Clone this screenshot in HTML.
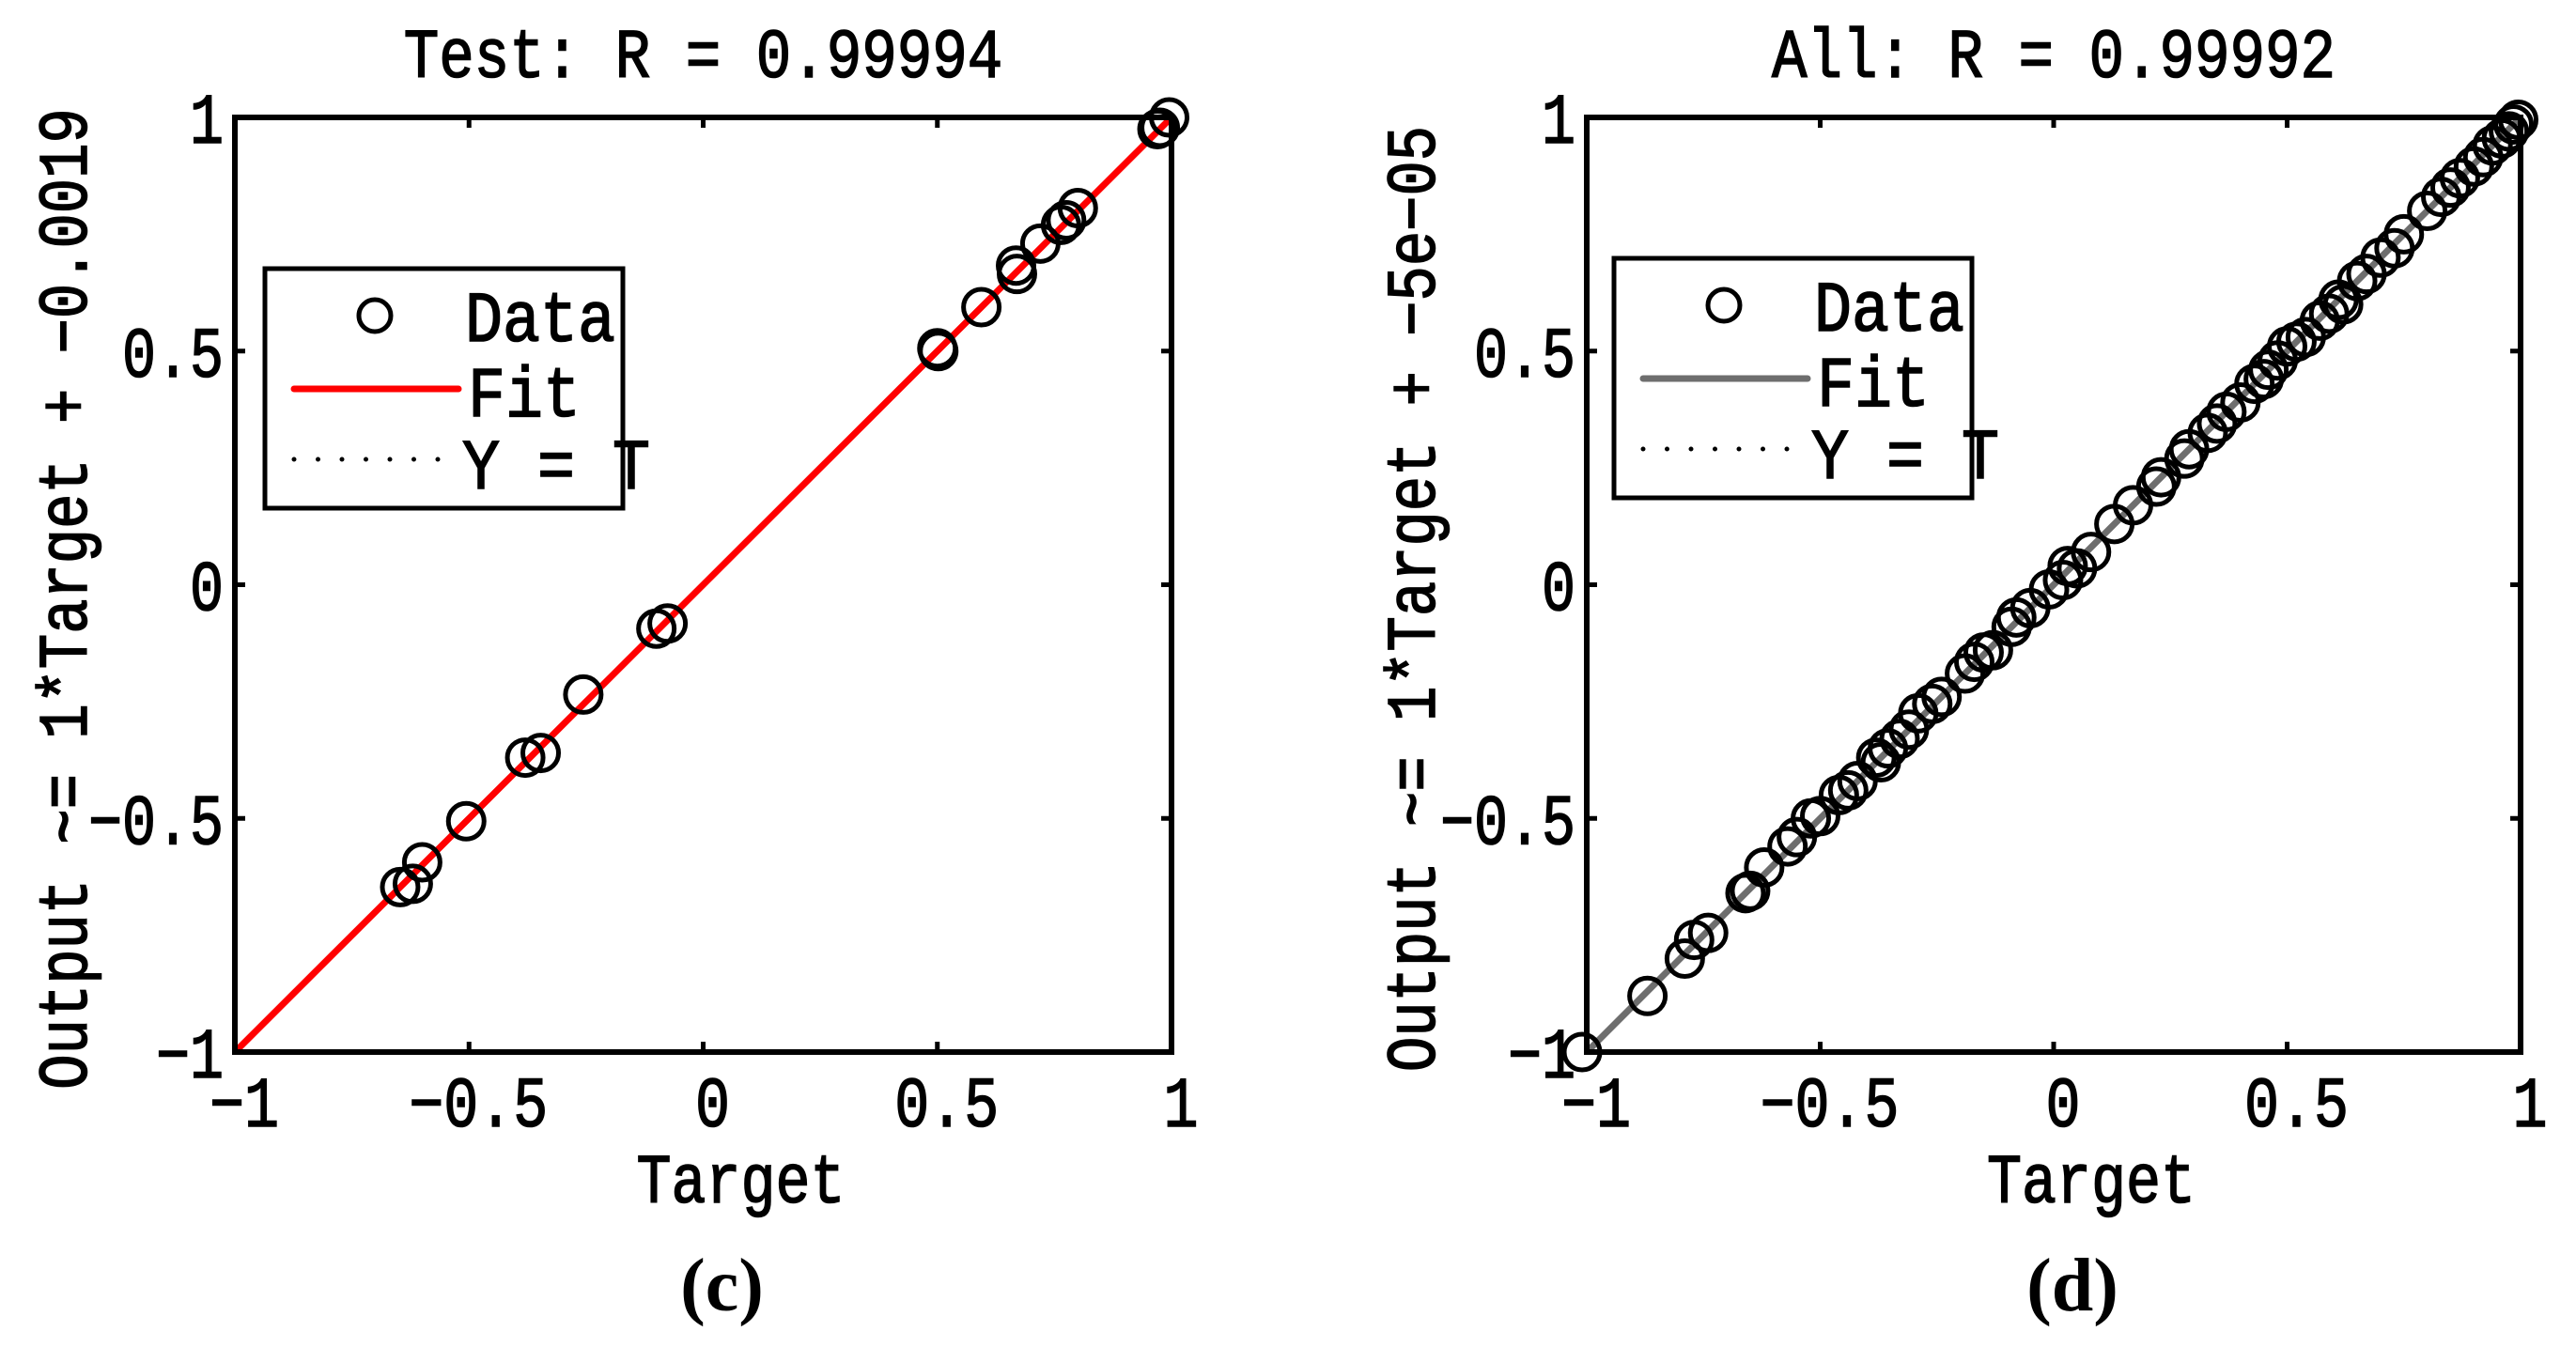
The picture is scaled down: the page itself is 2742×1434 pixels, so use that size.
<!DOCTYPE html>
<html><head><meta charset="utf-8">
<style>
html,body{margin:0;padding:0;background:#fff;}
svg{display:block;}
text{font-family:"WenQuanYi Zen Hei","Liberation Mono",monospace;fill:#000;stroke:#000;stroke-width:1.6;}
.lbl{font-family:"Liberation Serif",serif;font-weight:bold;stroke-width:0;}
</style></head>
<body>
<svg id="fig" width="2742" height="1434" viewBox="0 0 2742 1434" xmlns="http://www.w3.org/2000/svg"></svg>
<script>
// ---- data: Test panel (c)
const testTargets = [0.995,0.97,0.975,0.80,0.775,0.764,0.72,0.668,0.67,0.594,0.50,0.502,-0.076,-0.10,-0.256,-0.347,-0.38,-0.506,-0.60,-0.62,-0.647];
const testOutputs = [1.0,0.975,0.978,0.806,0.78,0.77,0.73,0.683,0.665,0.594,0.506,0.50,-0.083,-0.094,-0.235,-0.36,-0.37,-0.506,-0.594,-0.64,-0.647];
// ---- data: All panel (d)
const allTargets = [-1.01,-0.87,-0.79,-0.77,-0.74,-0.66,-0.65,-0.62,-0.57,-0.55,-0.52,-0.50,-0.46,-0.44,-0.42,-0.38,-0.37,-0.355,-0.33,-0.31,-0.29,-0.26,-0.24,-0.19,-0.17,-0.15,-0.13,-0.09,-0.08,-0.05,-0.01,0.02,0.03,0.05,0.08,0.13,0.17,0.22,0.23,0.28,0.29,0.33,0.35,0.37,0.40,0.43,0.45,0.46,0.48,0.50,0.52,0.54,0.57,0.59,0.61,0.62,0.65,0.67,0.70,0.73,0.75,0.80,0.83,0.85,0.87,0.90,0.92,0.94,0.96,0.975,0.985,0.995];
const allOutputs = [-1.0,-0.88,-0.80,-0.76,-0.745,-0.66,-0.655,-0.605,-0.56,-0.54,-0.50,-0.495,-0.45,-0.44,-0.42,-0.37,-0.38,-0.35,-0.33,-0.31,-0.275,-0.255,-0.24,-0.19,-0.165,-0.145,-0.14,-0.09,-0.07,-0.05,-0.01,0.01,0.04,0.035,0.07,0.13,0.17,0.21,0.23,0.27,0.29,0.325,0.345,0.37,0.39,0.43,0.44,0.46,0.48,0.51,0.52,0.53,0.565,0.58,0.61,0.60,0.65,0.665,0.70,0.72,0.75,0.80,0.83,0.85,0.87,0.895,0.915,0.94,0.955,0.97,0.985,0.995];
const tickValues = [-1,-0.5,0,0.5,1];
const xTickLabels = ["\u22121","\u22120.5","0","0.5","1"];
const yTickLabels = ["\u22121","\u22120.5","0","0.5","1"];

const NS="http://www.w3.org/2000/svg";
const svg=document.getElementById('fig');
function el(tag,attrs,parent,txt){const e=document.createElementNS(NS,tag);for(const k in attrs)e.setAttribute(k,attrs[k]);if(txt!==undefined)e.textContent=txt;(parent||svg).appendChild(e);return e;}

function panel(cfg){
  const g=el('g',{});
  
  
  const L=cfg.L,R=cfg.R,T=cfg.T,B=cfg.B;
  const sx=v=>L+(v+1)/2*(R-L);
  const sy=v=>B-(v+1)/2*(B-T);
  const fit=el('line',{x1:sx(-1),y1:sy(-1),x2:sx(1),y2:sy(1),stroke:cfg.fitColor,'stroke-width':7},g);
  
  
  for(let i=0;i<cfg.xs.length;i++){
    const c=el('circle',{cx:sx(cfg.xs[i]),cy:sy(cfg.ys[i]),r:19,fill:'none',stroke:'#000','stroke-width':5},g);
    
    
  }
  const box=el('rect',{x:L,y:T,width:R-L,height:B-T,fill:'none',stroke:'#000','stroke-width':6},g);
  
  
  for(let i=0;i<tickValues.length;i++){
    const v=tickValues[i];
    el('line',{x1:sx(v),y1:B,x2:sx(v),y2:B-11,stroke:'#000','stroke-width':5},g);
    el('line',{x1:sx(v),y1:T,x2:sx(v),y2:T+11,stroke:'#000','stroke-width':5},g);
    el('line',{x1:L,y1:sy(v),x2:L+11,y2:sy(v),stroke:'#000','stroke-width':5},g);
    el('line',{x1:R,y1:sy(v),x2:R-11,y2:sy(v),stroke:'#000','stroke-width':5},g);
    const xt=el('text',{x:sx(v)+10,y:1199,'font-size':76,'text-anchor':'middle',textLength:xTickLabels[i].length*37,lengthAdjust:'spacingAndGlyphs'},g,xTickLabels[i]);
    
    
    const yt=el('text',{x:L-12,y:sy(v)+27,'font-size':76,'text-anchor':'end',textLength:yTickLabels[i].length*36,lengthAdjust:'spacingAndGlyphs'},g,yTickLabels[i]);
    
    
  }
  const t=el('text',{x:(L+R)/2,y:82,'font-size':74,'text-anchor':'middle',textLength:cfg.title.length*37.5,lengthAdjust:'spacingAndGlyphs'},g,cfg.title);
  
  
  const xl=el('text',{x:(L+R)/2+40,y:1280,'font-size':74,'text-anchor':'middle',textLength:6*37,lengthAdjust:'spacingAndGlyphs'},g,'Target');
  
  
  const yl=el('text',{x:0,y:0,'font-size':74,'text-anchor':'middle',textLength:cfg.ytitle.length*37.3,lengthAdjust:'spacingAndGlyphs',transform:`translate(${cfg.ytx},${(T+B)/2+15}) rotate(-90)`},g,cfg.ytitle);
  
  
  const lg=el('g',{},g);
  
  
  const lx=cfg.lx,ly=cfg.ly;
  el('rect',{x:lx,y:ly,width:381,height:255,fill:'#fff',stroke:'#000','stroke-width':5},lg);
  el('circle',{cx:lx+117,cy:ly+50,r:17,fill:'none',stroke:'#000','stroke-width':5},lg);
  el('text',{x:lx+213,y:ly+77,'font-size':76,textLength:4*40,lengthAdjust:'spacingAndGlyphs'},lg,'Data');
  el('line',{x1:lx+31,y1:ly+128,x2:lx+206,y2:ly+128,stroke:cfg.fitColor,'stroke-width':7,'stroke-linecap':'round'},lg);
  el('text',{x:lx+216,y:ly+157,'font-size':76,textLength:3*40,lengthAdjust:'spacingAndGlyphs'},lg,'Fit');
  el('line',{x1:lx+31,y1:ly+203,x2:lx+190,y2:ly+203,stroke:'#000','stroke-width':5,'stroke-linecap':'round','stroke-dasharray':'0 25.5'},lg);
  el('text',{x:lx+210,y:ly+234,'font-size':76,textLength:5*40,lengthAdjust:'spacingAndGlyphs'},lg,'Y = T');
  const pl=el('text',{class:'lbl',x:(L+R)/2+20,y:1395,'font-size':80,'text-anchor':'middle'},g,cfg.label);
  
  
}

panel({name:'test-panel',L:250,R:1247,T:125,B:1120,xs:testTargets,ys:testOutputs,fitColor:'#ff0000',
  title:'Test: R = 0.99994',ytitle:'Output ~= 1*Target + \u22120.0019',ytx:92,lx:282,ly:286,label:'(c)'});
panel({name:'all-panel',L:1689,R:2683,T:125,B:1120,xs:allTargets,ys:allOutputs,fitColor:'#6e6e6e',
  title:'All: R = 0.99992',ytitle:'Output ~= 1*Target + \u22125e\u221205',ytx:1527,lx:1718,ly:275,label:'(d)'});
</script>
</body></html>
